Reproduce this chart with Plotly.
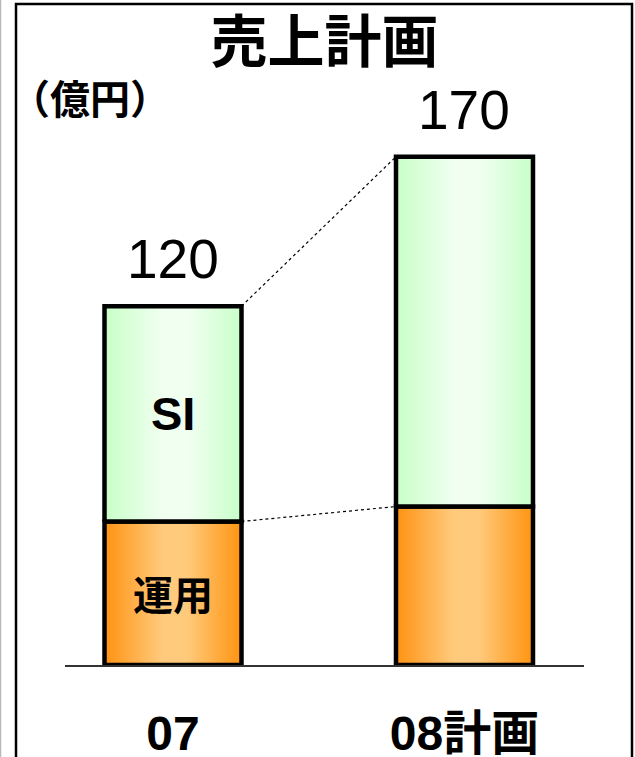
import plotly.graph_objects as go

# Sales plan (unit: 100 million yen)
categories = ["07", "08計画"]
ops_values = [48, 53]      # 運用
si_values = [72, 117]      # SI
totals = [o + s for o, s in zip(ops_values, si_values)]
segment_labels = {"ops": "運用", "si": "SI"}

BAR_W = 0.47
HALF = BAR_W / 2
LATIN = "Liberation Sans, Arial, Noto Sans CJK JP"

orange_scale = [[0.0, "#FF9212"], [0.42, "#FFCA7C"], [0.6, "#FFCA7C"], [1.0, "#FF9410"]]
green_scale = [[0.0, "#C8FFC8"], [0.42, "#F0FFF0"], [0.62, "#F0FFF0"], [1.0, "#C8FFC8"]]

fig = go.Figure()


def add_segment(i, base, top, scale):
    x0, x1 = i - HALF, i + HALF
    fig.add_trace(go.Scatter(
        x=[x0, x1, x1, x0, x0],
        y=[base, base, top, top, base],
        mode="lines",
        fill="toself",
        fillgradient=dict(type="horizontal", colorscale=scale, start=x0, stop=x1),
        line=dict(color="black", width=4.5),
        cliponaxis=False,
        hoverinfo="skip",
        showlegend=False,
    ))


for i in range(len(categories)):
    add_segment(i, 0, ops_values[i], orange_scale)
    add_segment(i, ops_values[i], totals[i], green_scale)

# dotted connectors between the two bars
for series in (totals, ops_values):
    fig.add_trace(go.Scatter(
        x=[0 + HALF, 1 - HALF],
        y=[series[0], series[1]],
        mode="lines",
        line=dict(color="black", width=1.2, dash="dot"),
        hoverinfo="skip",
        showlegend=False,
    ))

annotations = []
# totals above bars
for i, t in enumerate(totals):
    annotations.append(dict(
        x=i, y=t, xref="x", yref="y", text=str(t), showarrow=False,
        yanchor="bottom", yshift=14,
        font=dict(family=LATIN, size=55, color="black"),
    ))
# segment names inside the first bar
annotations.append(dict(
    x=0, y=ops_values[0] + si_values[0] / 2, xref="x", yref="y",
    text=segment_labels["si"], showarrow=False,
    font=dict(family=LATIN, size=47, color="black", weight="bold"),
))
annotations.append(dict(
    x=0, y=ops_values[0] / 2, xref="x", yref="y",
    text=segment_labels["ops"], showarrow=False,
    font=dict(family="Noto Sans CJK JP", size=40, color="black", weight="bold"),
))
# unit label
annotations.append(dict(
    x=0.048, y=0.95, xref="paper", yref="paper", text="（億円）",
    showarrow=False, xanchor="center", yanchor="middle",
    font=dict(family="Noto Sans CJK JP", size=40, color="black", weight="bold"),
))

# outer frame (open at the bottom) and faint page edge
shapes = [
    dict(type="path", xref="paper", yref="paper",
         path="M -0.0944,-0.2 L -0.0944,1.1054 L 1.0925,1.1054 L 1.0925,-0.2",
         line=dict(color="black", width=2.5)),
    dict(type="line", xref="paper", yref="paper", x0=-0.1243, x1=-0.1243, y0=-0.2, y1=1.2,
         line=dict(color="#B8B8B8", width=1.5)),
]

fig.update_layout(
    width=635, height=757,
    margin=dict(l=65, r=51, t=67, b=92, autoexpand=False),
    paper_bgcolor="white", plot_bgcolor="white",
    title=dict(text="売上計画", x=0.5, xref="paper", xanchor="center",
               y=1 - 42 / 757, yanchor="middle",
               font=dict(family="Noto Sans CJK JP", size=57, color="black", weight="bold")),
    xaxis=dict(range=[-0.3705, 1.41], showgrid=False, zeroline=False, automargin=False,
               showline=True, linecolor="#333333", linewidth=2, layer="below traces",
               tickmode="array", tickvals=list(range(len(categories))), ticktext=categories,
               ticks="", ticklabelstandoff=25,
               tickfont=dict(family=LATIN, size=48, color="black", weight="bold")),
    yaxis=dict(range=[0, 200], visible=False, showgrid=False, zeroline=False, automargin=False),
    annotations=annotations,
    shapes=shapes,
    showlegend=False,
)

fig.write_html("out.html")
